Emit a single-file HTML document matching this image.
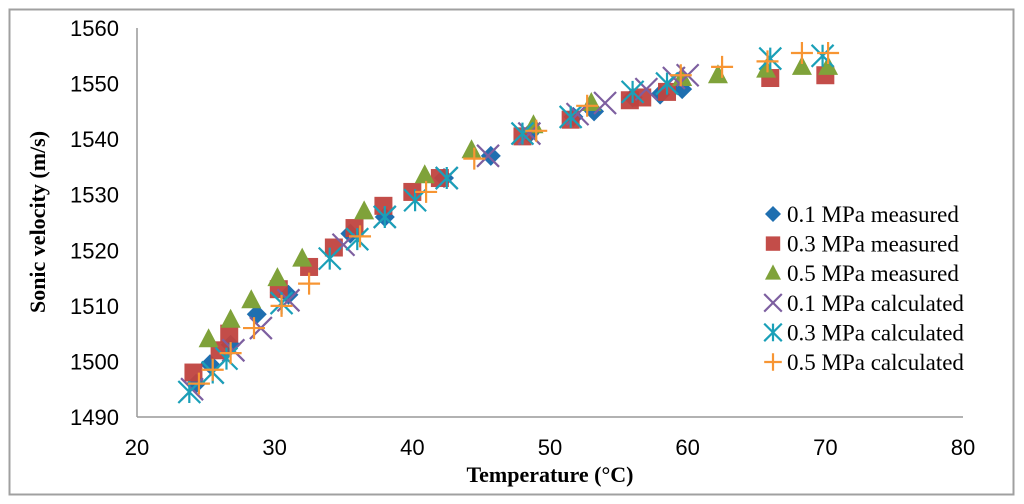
<!DOCTYPE html>
<html><head><meta charset="utf-8"><style>
html,body{margin:0;padding:0;background:#fff;width:1024px;height:504px;overflow:hidden}
svg text{font-family:"Liberation Sans",Arial,sans-serif}
</style></head><body>
<svg id="chart" width="1024" height="504" xmlns="http://www.w3.org/2000/svg">
<rect x="9.5" y="9.5" width="1004" height="485" fill="#fff" stroke="#a0a0a0" stroke-width="2"/>
<g id="axes"></g><g id="marks"></g><g id="legend"></g>
<text x="550" y="482" text-anchor="middle" style="font-family:'Liberation Serif',serif;font-weight:bold;font-size:22px">Temperature (°C)</text>
<text transform="translate(45,222) rotate(-90)" text-anchor="middle" style="font-family:'Liberation Serif',serif;font-weight:bold;font-size:22px">Sonic velocity (m/s)</text>
</svg>
<script>
const xTicks=[20,30,40,50,60,70,80];
const yTicks=[1490,1500,1510,1520,1530,1540,1550,1560];
const seriesNames=["0.1 MPa measured","0.3 MPa measured","0.5 MPa measured","0.1 MPa calculated","0.3 MPa calculated","0.5 MPa calculated"];
const t01m=[24.3,25.3,26.8,28.7,31,35.5,38,42.3,45.7,48.5,51.7,53.2,56,58,59.6];
const v01m=[1496,1499.5,1503,1508.5,1512,1523,1526,1533,1537,1541,1544,1545,1547.5,1548,1549];
const t03m=[24.1,26,26.7,30.3,32.5,34.3,35.8,37.9,40,42,48,51.5,55.8,56.7,58.5,66,70];
const v03m=[1498,1502,1505,1513,1517,1520.5,1524,1528,1530.5,1533,1540.5,1543.5,1547,1547.5,1548.5,1551,1551.5];
const t05m=[25.2,26.8,28.3,30.2,32,36.5,40.9,44.3,48.8,53,59.6,62.2,65.7,68.3,70.2];
const v05m=[1504,1507.5,1511,1515,1518.5,1527,1533.5,1538,1542.5,1546.5,1551,1551.5,1552.5,1553,1553];
const t01c=[24,25.5,27,29,31,35,38,42.5,45.5,48.5,52,54,57,59,60];
const v01c=[1495,1498,1502,1506,1511,1521,1526,1533,1537,1541,1544.5,1546.5,1549,1551,1551.5];
const t03c=[23.8,25.5,26.5,30.5,34,36,38,40.2,42.5,48,51.5,56,58.5,66,69.8];
const v03c=[1494.5,1498,1500.5,1510.5,1518.5,1522,1526,1529,1533,1541,1544,1548.5,1550,1554.5,1555];
const t05c=[24.5,25.5,26.8,28.5,30.5,32.5,36.2,41,44.5,49,52.7,59.5,62.5,65.8,68.3,70.2];
const v05c=[1496,1498.5,1501.5,1506,1510,1514,1522.5,1530.5,1536.5,1541.5,1546,1551.5,1553,1554,1555.5,1555.5];

const NS="http://www.w3.org/2000/svg";
const X0=137,X1=963,Y0=417,Y1=28;
const xs=t=>X0+(t-20)/60*(X1-X0);
const ys=v=>Y0-(v-1490)/70*(Y0-Y1);
function mk(tag,attrs,parent){const e=document.createElementNS(NS,tag);for(const k in attrs)e.setAttribute(k,attrs[k]);parent.appendChild(e);return e;}
const axes=document.getElementById('axes');
let l=mk('line',{x1:X0,y1:Y0,x2:X1,y2:Y0,stroke:'#999','stroke-width':1.5},axes);


l=mk('line',{x1:X0,y1:Y1,x2:X0,y2:Y0,stroke:'#999','stroke-width':1.5},axes);


xTicks.forEach(t=>{const e=mk('text',{x:xs(t),y:455,'text-anchor':'middle','font-size':22},axes);e.textContent=t;

});
yTicks.forEach(v=>{const e=mk('text',{x:119,y:ys(v)+8,'text-anchor':'end','font-size':22},axes);e.textContent=v;

});

const cols=['#1f6fb0','#c0433f','#7fa23a','#7d5fa0','#1aa0b8','#f79533'];
function marker(type,cx,cy,g,s){
  const c=cols[type];s=s||1;
  if(type===0)return mk('polygon',{points:`${cx},${cy-10*s} ${cx+10*s},${cy} ${cx},${cy+10*s} ${cx-10*s},${cy}`,fill:c},g);
  if(type===1)return mk('rect',{x:cx-9*s,y:cy-9*s,width:18*s,height:18*s,fill:c,opacity:0.95},g);
  if(type===2)return mk('polygon',{points:`${cx},${cy-11*s} ${cx+10*s},${cy+8*s} ${cx-10*s},${cy+8*s}`,fill:c},g);
  const gg=mk('g',{stroke:c,'stroke-width':2.2,fill:'none'},g);
  const r=11*s;
  if(type===3){mk('path',{d:`M${cx-r} ${cy-r}L${cx+r} ${cy+r}M${cx-r} ${cy+r}L${cx+r} ${cy-r}`},gg);}
  if(type===4){mk('path',{d:`M${cx-r} ${cy-r}L${cx+r} ${cy+r}M${cx-r} ${cy+r}L${cx+r} ${cy-r}M${cx} ${cy-r}L${cx} ${cy+r}`},gg);}
  if(type===5){mk('path',{d:`M${cx-r} ${cy}L${cx+r} ${cy}M${cx} ${cy-r}L${cx} ${cy+r}`},gg);}
  return gg;
}
const data=[[t01m,v01m],[t03m,v03m],[t05m,v05m],[t01c,v01c],[t03c,v03c],[t05c,v05c]];
const marks=document.getElementById('marks');
data.forEach((d,i)=>{const g=mk('g',{},marks);


d[0].forEach((t,j)=>{const m=marker(i,xs(t),ys(d[1][j]),g);

});});
const leg=document.getElementById('legend');
seriesNames.forEach((n,i)=>{const y=214+i*29.6;const g=mk('g',{},leg);


marker(i,773,y,g,0.8);
const t=mk('text',{x:787,y:y+8,'font-size':23,style:"font-family:'Liberation Serif',serif"},g);t.textContent=n;});
</script>
</body></html>
